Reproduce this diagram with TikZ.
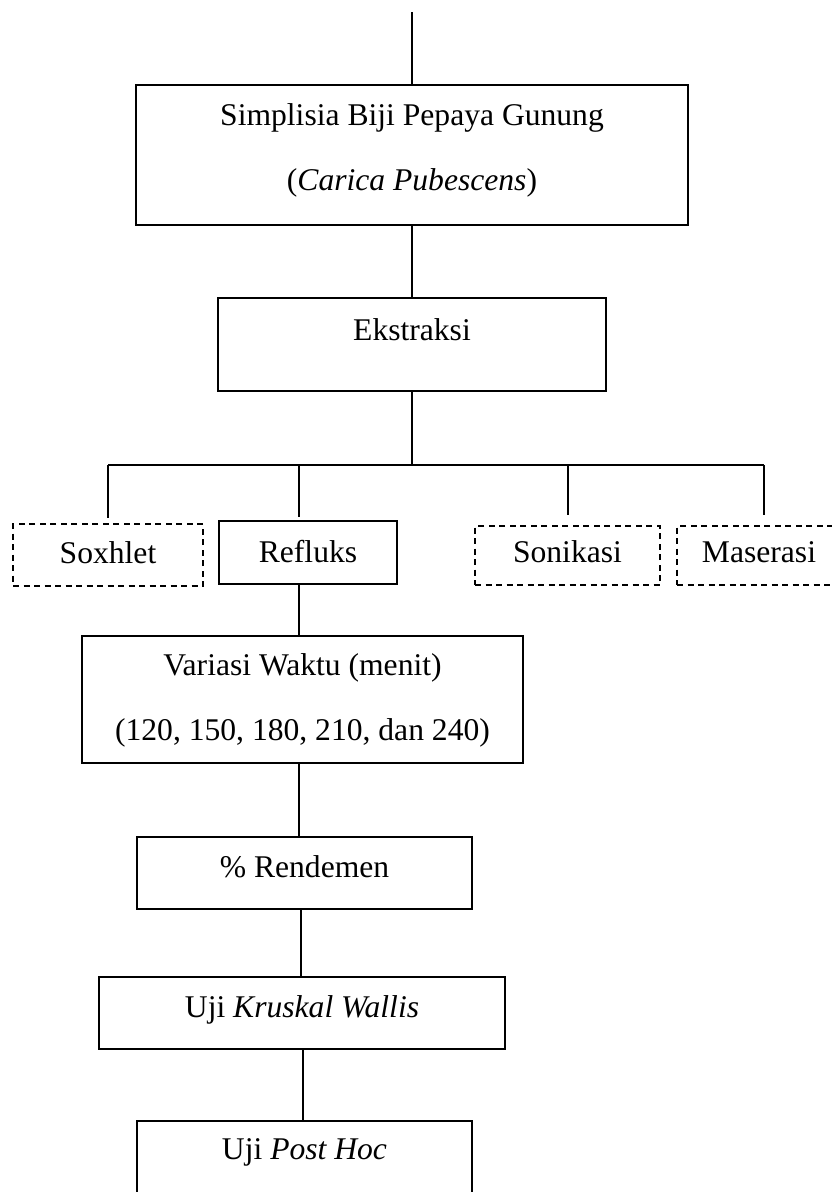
\documentclass[tikz,border=0pt]{standalone}
\usepackage{fontspec}
\setmainfont{Liberation Serif}
\begin{document}
\begin{tikzpicture}[x=1pt,y=-1pt,line width=2pt,
    kotak/.style={draw,inner sep=0pt,outer sep=0pt,align=center,
      font=\fontsize{31.6}{64.5}\selectfont},
    putus/.style={kotak,dash pattern=on 6pt off 4.5pt},
    cabang/.style={shorten >=#1}]
  \useasboundingbox (0,0) rectangle (832,1192);
  % alur utama
  \node[kotak,minimum width=552pt,text height=105pt,text depth=35pt] (simpl) at (412,155)
    {Simplisia Biji Pepaya Gunung\\(\textit{Carica Pubescens})};
  \node[kotak,minimum width=388pt,text height=42pt,text depth=51pt] (ekstr) at (412,344.5) {Ekstraksi};
  % metode ekstraksi
  \node[putus,minimum width=190pt,text height=39pt,text depth=23pt] (soxh) at (108,555) {Soxhlet};
  \node[kotak,minimum width=178pt,text height=41pt,text depth=22pt] (reflk) at (308,552.5) {Refluks};
  \node[putus,minimum width=185pt,text height=36pt,text depth=23pt] (sonik) at (567.5,555.5) {Sonikasi};
  \node[putus,minimum width=164pt,text height=36pt,text depth=23pt] (maser) at (759,555.5) {Maserasi};
  % lanjutan refluks
  \node[kotak,minimum width=441pt,text height=104pt,text depth=23pt] (varws) at (302.5,699.5)
    {Variasi Waktu (menit)\\(120, 150, 180, 210, dan 240)};
  \node[kotak,minimum width=335pt,text height=40pt,text depth=32pt] (rend) at (304.5,873) {\% Rendemen};
  \node[kotak,minimum width=406pt,text height=40pt,text depth=32pt] (krusk) at (302,1013) {Uji \textit{Kruskal Wallis}};
  \node[kotak,minimum width=335pt,text height=38pt,text depth=36pt] (posth) at (304.5,1158) {Uji \textit{Post Hoc}};

  \coordinate (atas) at (412,12);
  \coordinate (pusat) at (412,465);
  \coordinate (kolom) at (299,0);
  \coordinate (ujung) at (764,0);

  \draw (atas) -- (simpl);
  \draw (simpl) -- (ekstr);
  \draw (ekstr) -- (pusat);
  \draw (soxh.north |- pusat) -- (ujung |- pusat);
  \draw[cabang=6pt] (soxh.north |- pusat) -- (soxh.north);
  \draw[cabang=4pt] (kolom |- pusat) -- (kolom |- reflk.north);
  \draw[cabang=11pt] (sonik.north |- pusat) -- (sonik.north);
  \draw[cabang=11pt] (ujung |- pusat) -- (ujung |- maser.north);
  \draw (kolom |- reflk.south) -- (kolom |- varws.north);
  \draw (kolom |- varws.south) -- (kolom |- rend.north);
  \draw ([xshift=2pt]kolom |- rend.south) -- ([xshift=2pt]kolom |- krusk.north);
  \draw ([xshift=4pt]kolom |- krusk.south) -- ([xshift=4pt]kolom |- posth.north);
\end{tikzpicture}
\end{document}
